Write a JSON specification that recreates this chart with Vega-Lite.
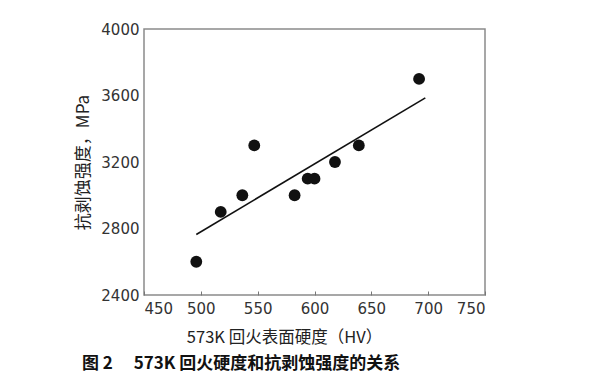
{
  "$schema": "https://vega.github.io/schema/vega-lite/v6.json",
  "width": 341,
  "height": 266,
  "autosize": {"type": "none"},
  "padding": {"left": 144, "top": 29, "right": 104, "bottom": 82},
  "background": "white",
  "datasets": {
    "pts": [
      {"hv": 496, "s": 2600},
      {"hv": 517.5, "s": 2900},
      {"hv": 536.5, "s": 3000},
      {"hv": 547, "s": 3300},
      {"hv": 582.5, "s": 3000},
      {"hv": 594, "s": 3100},
      {"hv": 600, "s": 3100},
      {"hv": 618, "s": 3200},
      {"hv": 639, "s": 3300},
      {"hv": 692, "s": 3700}
    ],
    "fit": [
      {"hv": 496, "s": 2764},
      {"hv": 697.5, "s": 3586}
    ]
  },
  "title": {
    "text": "图 2\u3000 573K 回火硬度和抗剥蚀强度的关系",
    "orient": "bottom",
    "anchor": "start",
    "frame": "group",
    "dx": -62,
    "offset": 10,
    "font": "Noto Sans CJK SC",
    "fontSize": 17,
    "fontWeight": "bold",
    "color": "#111"
  },
  "config": {
    "view": {"stroke": "#8a8a8a", "strokeWidth": 1.5},
    "axis": {
      "labelFont": "DejaVu Sans",
      "labelFontSize": 15,
      "labelColor": "#333",
      "titleFont": "Noto Sans CJK SC",
      "titleFontWeight": "normal",
      "titleColor": "#222",
      "domain": false,
      "grid": false
    }
  },
  "layer": [
    {
      "data": {"name": "fit"},
      "mark": {"type": "line", "color": "#111", "strokeWidth": 1.6},
      "encoding": {
        "x": {"field": "hv", "type": "quantitative"},
        "y": {"field": "s", "type": "quantitative"}
      }
    },
    {
      "data": {"name": "pts"},
      "mark": {"type": "point", "filled": true, "color": "#111", "opacity": 1, "size": 140},
      "encoding": {
        "x": {
          "field": "hv",
          "type": "quantitative",
          "scale": {"domain": [450, 750], "nice": false, "zero": false},
          "axis": {
            "values": [450, 500, 550, 600, 650, 700, 750],
            "tickSize": -4,
            "tickColor": "#777",
            "labelPadding": 10,
            "title": "573K 回火表面硬度（HV）",
            "titleFontSize": 16.5,
            "titleX": 140,
            "titleY": 42,
            "titleBaseline": "middle"
          }
        },
        "y": {
          "field": "s",
          "type": "quantitative",
          "scale": {"domain": [2400, 4000], "nice": false, "zero": false},
          "axis": {
            "values": [2400, 2800, 3200, 3600, 4000],
            "format": "d",
            "ticks": false,
            "labelPadding": 5,
            "title": "抗剥蚀强度，MPa",
            "titleFontSize": 17,
            "titleAngle": -90,
            "titleX": -61,
            "titleY": 133,
            "titleAlign": "center",
            "titleBaseline": "middle"
          }
        }
      }
    }
  ]
}
